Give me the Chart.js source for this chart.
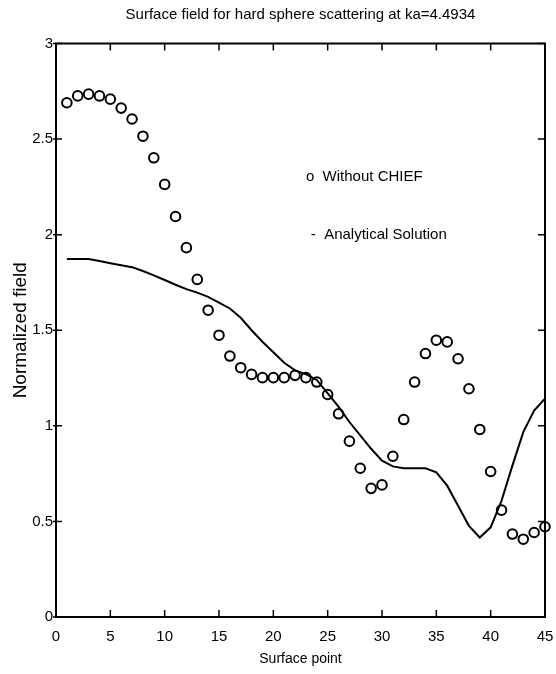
<!DOCTYPE html>
<html>
<head>
<meta charset="utf-8">
<script src="https://cdn.jsdelivr.net/npm/chart.js@4/dist/chart.umd.min.js"></script>
<style>
  html, body { margin: 0; padding: 0; background: #fff; }
  #wrap { width: 556px; height: 674px; }
</style>
</head>
<body>
<div id="wrap"><canvas id="surface-chart"></canvas></div>
<script>
// surface point index 1..45
const surfacePoints = [1,2,3,4,5,6,7,8,9,10,11,12,13,14,15,16,17,18,19,20,21,22,23,
  24,25,26,27,28,29,30,31,32,33,34,35,36,37,38,39,40,41,42,43,44,45];

// "Without CHIEF" (circles)
const withoutChief = [2.69,2.726,2.735,2.726,2.709,2.662,2.605,2.515,2.402,2.263,
  2.095,1.932,1.766,1.605,1.474,1.365,1.304,1.269,1.252,1.252,1.252,1.264,1.252,
  1.229,1.164,1.063,0.920,0.778,0.673,0.691,0.841,1.033,1.229,1.378,1.448,1.439,
  1.351,1.194,0.981,0.761,0.559,0.434,0.407,0.442,0.472];

// "Analytical Solution" (solid line)
const analytical = [1.873,1.873,1.873,1.862,1.851,1.840,1.830,1.810,1.787,1.763,
  1.738,1.715,1.697,1.675,1.645,1.614,1.565,1.500,1.440,1.385,1.330,1.290,1.270,
  1.240,1.170,1.100,1.020,0.950,0.880,0.818,0.788,0.778,0.778,0.778,0.757,0.687,
  0.582,0.477,0.416,0.469,0.608,0.792,0.967,1.080,1.142];

const xTicks = [0,5,10,15,20,25,30,35,40,45];
const yTicks = [0,0.5,1,1.5,2,2.5,3];

const FONT = "'Liberation Sans', Arial, sans-serif";

// box round the plot, inward ticks, and the text legend inside the plot
const framePlugin = {
  id: 'frame',
  afterDraw(chart) {
    const {ctx, chartArea: a, scales} = chart;
    ctx.save();
    ctx.strokeStyle = '#000';
    ctx.lineWidth = 2;
    ctx.strokeRect(a.left, a.top, a.right - a.left, a.bottom - a.top);
    ctx.lineWidth = 1.5;
    ctx.beginPath();
    xTicks.forEach(v => {
      const px = scales.x.getPixelForValue(v);
      ctx.moveTo(px, a.bottom); ctx.lineTo(px, a.bottom - 7);
      ctx.moveTo(px, a.top); ctx.lineTo(px, a.top + 7);
    });
    yTicks.forEach(v => {
      const py = scales.y.getPixelForValue(v);
      ctx.moveTo(a.left - 3, py); ctx.lineTo(a.left + 6, py);
      ctx.moveTo(a.right, py); ctx.lineTo(a.right - 7, py);
    });
    ctx.stroke();

    ctx.fillStyle = '#000';
    ctx.font = '15px ' + FONT;
    ctx.textBaseline = 'middle';
    ctx.textAlign = 'left';
    ctx.fillText('o  Without CHIEF', scales.x.getPixelForValue(23), scales.y.getPixelForValue(2.3));
    ctx.fillText('-  Analytical Solution', scales.x.getPixelForValue(23.45), scales.y.getPixelForValue(2.0));
    ctx.restore();
  }
};

new Chart(document.getElementById('surface-chart'), {
  type: 'scatter',
  data: {
    datasets: [{
      label: 'Without CHIEF',
      data: surfacePoints.map((x, i) => ({x: x, y: withoutChief[i]})),
      showLine: false,
      pointStyle: 'circle',
      pointRadius: 4.8,
      pointBorderWidth: 2,
      borderColor: '#000',
      backgroundColor: 'rgba(0,0,0,0)',
      clip: false
    }, {
      label: 'Analytical Solution',
      data: surfacePoints.map((x, i) => ({x: x, y: analytical[i]})),
      showLine: true,
      pointRadius: 0,
      borderColor: '#000',
      borderWidth: 2,
      tension: 0,
      clip: false
    }]
  },
  options: {
    responsive: true,
    maintainAspectRatio: false,
    animation: false,
    layout: { padding: { left: 0, right: 11, top: 0, bottom: 0 } },
    plugins: {
      legend: { display: false },
      tooltip: { enabled: false },
      title: {
        display: true,
        fullSize: false,
        text: 'Surface field for hard sphere scattering at ka=4.4934',
        color: '#000',
        font: { family: FONT, size: 15, weight: 'normal', lineHeight: 1.2 },
        padding: { top: 6, bottom: 19.5 }
      }
    },
    scales: {
      x: {
        type: 'linear',
        min: 0, max: 45,
        afterBuildTicks: s => { s.ticks = xTicks.map(v => ({value: v})); },
        afterFit: s => { s.height = 57; s.paddingLeft = 0; s.paddingRight = 0; },
        grid: { display: false, drawTicks: false },
        border: { display: false },
        ticks: { color: '#000', padding: 11, font: { family: FONT, size: 15 },
          callback: v => String(v) },
        title: {
          display: true, text: 'Surface point', color: '#000',
          font: { family: FONT, size: 14 }, padding: { top: 0, bottom: 6 }
        }
      },
      y: {
        min: 0, max: 3,
        afterBuildTicks: s => { s.ticks = yTicks.map(v => ({value: v})); },
        afterFit: s => { s.width = 56; s.paddingTop = 0; s.paddingBottom = 0; },
        grid: { display: false, drawTicks: false },
        border: { display: false },
        ticks: { color: '#000', padding: 3, font: { family: FONT, size: 15 },
          callback: v => String(v) },
        title: {
          display: true, text: 'Normalized field', color: '#000',
          font: { family: FONT, size: 19 }, padding: { top: 9, bottom: 0 }
        }
      }
    }
  },
  plugins: [framePlugin]
});
</script>
</body>
</html>
